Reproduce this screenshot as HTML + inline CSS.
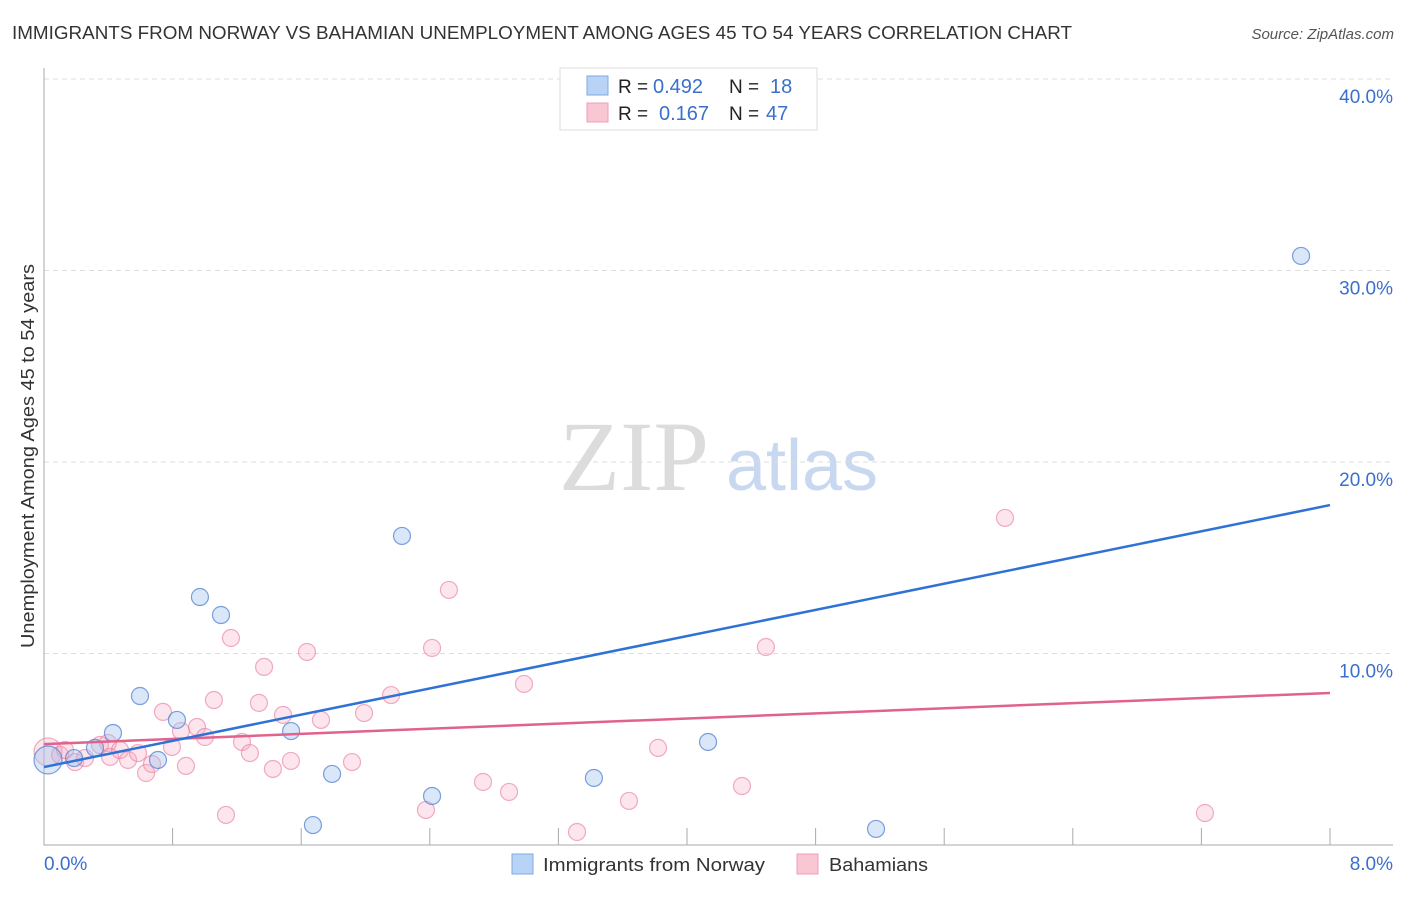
<!DOCTYPE html>
<html><head><meta charset="utf-8"><style>
body{margin:0;background:#fff;font-family:"Liberation Sans",sans-serif;}
</style></head><body>
<svg id="chart" width="1406" height="892" viewBox="0 0 1406 892" xmlns="http://www.w3.org/2000/svg" font-family="Liberation Sans, sans-serif">
<text x="12" y="39" font-size="18" fill="#333" textLength="1060" lengthAdjust="spacingAndGlyphs">IMMIGRANTS FROM NORWAY VS BAHAMIAN UNEMPLOYMENT AMONG AGES 45 TO 54 YEARS CORRELATION CHART</text>
<text x="1394" y="39" font-size="15" fill="#555" font-style="italic" text-anchor="end">Source: ZipAtlas.com</text>
<g>
<text x="634" y="490" font-size="100" fill="#dcdcdc" style="font-family:'Liberation Serif',serif" text-anchor="middle">ZIP</text>
<text x="802" y="490" font-size="72" fill="#c8d8f0" text-anchor="middle">atlas</text>
</g>
<g id="grid"></g>
<g id="axes"></g>
<text transform="translate(34,456) rotate(-90)" font-size="18" fill="#333" text-anchor="middle" textLength="384" lengthAdjust="spacingAndGlyphs">Unemployment Among Ages 45 to 54 years</text>
<g id="marks"></g>
<g>
<rect x="560" y="68" width="257" height="62" fill="#fff" stroke="#ddd"/>
<rect x="587" y="76" width="21" height="19" fill="#b8d3f5" stroke="#7fa8e0"/>
<rect x="587" y="103" width="21" height="19" fill="#f9c6d4" stroke="#ee9fb7"/>
<text x="618" y="93" font-size="19" fill="#222">R =</text>
<text x="653" y="93" font-size="20" fill="#3a70cc">0.492</text>
<text x="729" y="93" font-size="19" fill="#222">N =</text>
<text x="770" y="93" font-size="20" fill="#3a70cc">18</text>
<text x="618" y="120" font-size="19" fill="#222">R =</text>
<text x="659" y="120" font-size="20" fill="#3a70cc">0.167</text>
<text x="729" y="120" font-size="19" fill="#222">N =</text>
<text x="766" y="120" font-size="20" fill="#3a70cc">47</text>
</g>
<g>
<rect x="512" y="854" width="21" height="20" fill="#b8d3f5" stroke="#7fa8e0"/>
<text x="543" y="871" font-size="18" fill="#333" textLength="222" lengthAdjust="spacingAndGlyphs">Immigrants from Norway</text>
<rect x="797" y="854" width="21" height="20" fill="#f9c6d4" stroke="#ee9fb7"/>
<text x="829" y="871" font-size="18" fill="#333" textLength="99" lengthAdjust="spacingAndGlyphs">Bahamians</text>
</g>
</svg>
<script>
const yTicks=[10,20,30,40];
const yTickLabels=["10.0%","20.0%","30.0%","40.0%"];
const xTickVals=[0.8,1.6,2.4,3.2,4.0,4.8,5.6,6.4,7.2,8.0];
const xEndLabels=["0.0%","8.0%"];
const norwayX=[0.025,0.187,0.317,0.429,0.597,0.709,0.827,0.970,1.101,1.537,1.673,1.792,2.227,2.414,3.421,4.131,5.176,7.820];
const norwayY=[4.44,4.54,5.07,5.85,7.78,4.44,6.53,12.95,12.01,5.95,1.04,3.71,16.14,2.56,3.50,5.38,0.84,30.76];
const bahX=[0.025,0.100,0.131,0.193,0.255,0.348,0.398,0.411,0.473,0.523,0.585,0.635,0.672,0.740,0.796,0.852,0.883,0.952,1.001,1.057,1.132,1.163,1.232,1.281,1.337,1.369,1.424,1.487,1.536,1.636,1.723,1.916,1.991,2.159,2.376,2.414,2.519,2.731,2.893,2.986,3.316,3.639,3.820,4.342,4.491,5.978,7.222];
const bahY=[4.86,4.70,4.96,4.33,4.54,5.22,5.33,4.60,4.96,4.44,4.80,3.76,4.23,6.95,5.12,5.95,4.13,6.16,5.64,7.57,1.57,10.81,5.38,4.80,7.42,9.30,3.97,6.79,4.39,10.08,6.53,4.33,6.89,7.83,1.83,10.29,13.32,3.29,2.77,8.41,0.68,2.30,5.07,3.08,10.34,17.08,1.67];
const norwayTrend=[4.07,17.75];
const bahTrend=[5.27,7.94];
const trendX=[0,8];
const X=v=>44+v*160.75, Y=v=>845-v*19.15;
const NS="http://www.w3.org/2000/svg";
function mk(tag,attrs,parent){const e=document.createElementNS(NS,tag);for(const k in attrs)e.setAttribute(k,attrs[k]);parent.appendChild(e);return e;}
const grid=document.getElementById('grid'),axes=document.getElementById('axes'),marks=document.getElementById('marks');
yTicks.forEach((t,i)=>{
 const l=mk('line',{x1:44,x2:1393,y1:Y(t),y2:Y(t),stroke:'#ddd','stroke-dasharray':'5,4'},grid);
 
 
 const tx=mk('text',{x:1393,y:Y(t)+24,'font-size':19,fill:'#3a70cc','text-anchor':'end'},axes);
 tx.textContent=yTickLabels[i];
 
 
});
const ax=mk('path',{d:`M44 68V845H1393`,stroke:'#aaa',fill:'none'},axes);


xTickVals.forEach(v=>{
 const t=mk('line',{x1:X(v),x2:X(v),y1:828,y2:845,stroke:'#aaa'},axes);
 
 
});
[[0,'start',44],[8,'end',1393]].forEach((d,i)=>{
 const t=mk('text',{x:d[2],y:870,'font-size':19,fill:'#3a70cc','text-anchor':d[1]},axes);
 t.textContent=xEndLabels[i];
 
 
});
bahX.forEach((x,i)=>{
 const c=mk('circle',{cx:X(x),cy:Y(bahY[i]),r:i===0?14:8.5,fill:'rgba(246,170,195,0.3)',stroke:'rgba(232,120,155,0.6)','stroke-width':1.2},marks);
 
 
});
norwayX.forEach((x,i)=>{
 const c=mk('circle',{cx:X(x),cy:Y(norwayY[i]),r:i===0?14:8.5,fill:'rgba(160,195,240,0.4)',stroke:'rgba(80,130,210,0.75)','stroke-width':1.2},marks);
 
 
});
const l1=mk('line',{x1:X(trendX[0]),x2:X(trendX[1]),y1:Y(bahTrend[0]),y2:Y(bahTrend[1]),stroke:'#e0628d','stroke-width':2.5},marks);


const l2=mk('line',{x1:X(trendX[0]),x2:X(trendX[1]),y1:Y(norwayTrend[0]),y2:Y(norwayTrend[1]),stroke:'#2f72d6','stroke-width':2.5},marks);


</script>
</body></html>
